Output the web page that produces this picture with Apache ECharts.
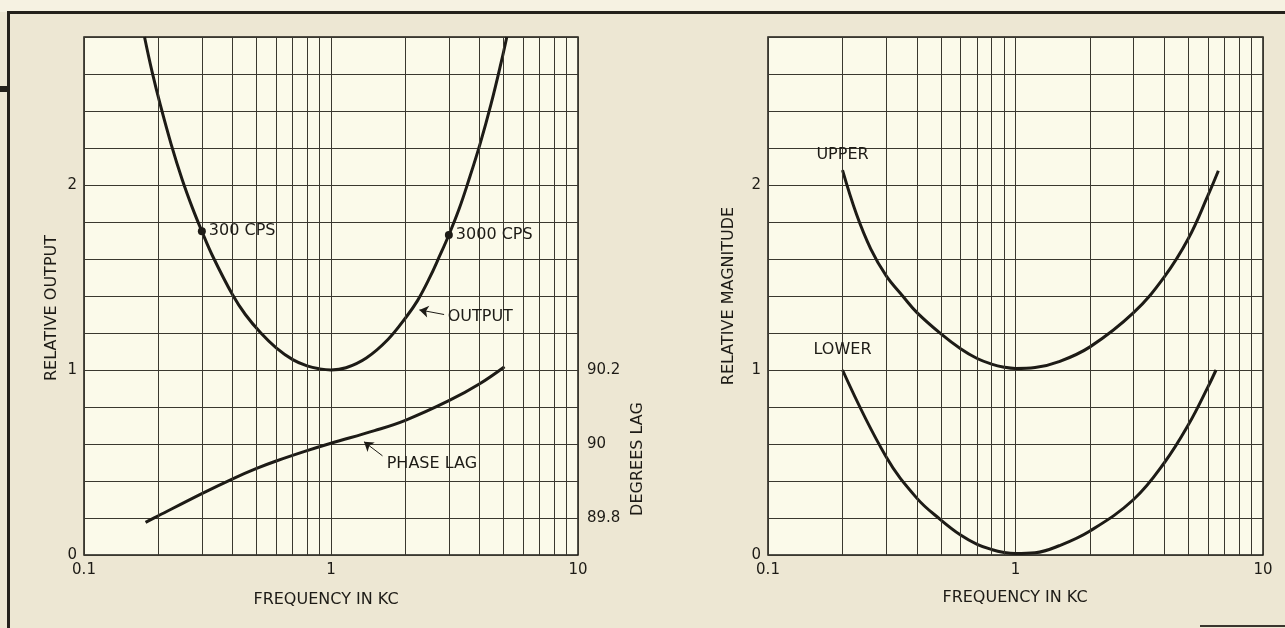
<!DOCTYPE html>
<html>
<head>
<meta charset="utf-8">
<script src="https://cdn.jsdelivr.net/npm/echarts@6/dist/echarts.min.js"></script>
<style>
  html, body { margin: 0; padding: 0; background: #ede7d3; }
  #chart { width: 1285px; height: 628px; }
</style>
</head>
<body>
<div id="chart"></div>
<script>
// ---- Left panel: relative output and phase lag vs frequency (kc) ----
const outputFreq  = [0.1758, 0.1888, 0.204, 0.2254, 0.2497, 0.275, 0.3, 0.332, 0.4, 0.45, 0.52, 0.6, 0.7, 0.8, 0.9, 1.0, 1.15, 1.39, 1.7, 2.02, 2.24, 2.5, 2.75, 3.0, 3.3, 3.6, 4.02, 4.45, 4.88, 5.15];
const outputValue = [2.8,    2.61,   2.43,  2.22,   2.03,   1.875, 1.75, 1.615, 1.405, 1.3, 1.2, 1.12, 1.056, 1.022, 1.006, 1.0, 1.012, 1.065, 1.165, 1.288, 1.375, 1.495, 1.615, 1.73, 1.87, 2.02, 2.225, 2.44, 2.66, 2.8];

const phaseFreq = [0.1775, 0.2, 0.3, 0.4, 0.5, 0.6, 0.8, 1.0, 1.5, 2.0, 3.0, 4.0, 5.04];
const phaseDeg  = [89.788, 89.806, 89.866, 89.906, 89.934, 89.954, 89.982, 90.002, 90.036, 90.064, 90.117, 90.163, 90.209];

// Marked frequencies on the output curve (kc) and their captions
const markFreq  = [0.3, 3.0];
const markLabel = ['300 CPS', '3000 CPS'];

// ---- Right panel: upper and lower relative magnitude vs frequency (kc) ----
const upperFreq  = [0.2, 0.228, 0.26, 0.3, 0.35, 0.4, 0.5, 0.6, 0.7, 0.8, 0.9, 1.0, 1.2, 1.5, 2.0, 3.0, 4.0, 5.0, 6.0, 6.6];
const upperValue = [2.08, 1.84, 1.655, 1.51, 1.40, 1.31, 1.195, 1.115, 1.062, 1.032, 1.015, 1.008, 1.013, 1.045, 1.125, 1.31, 1.505, 1.712, 1.945, 2.077];

const lowerFreq  = [0.2, 0.3, 0.4, 0.5, 0.6, 0.7, 0.8, 0.9, 1.0, 1.2, 1.5, 2.0, 3.0, 4.0, 5.0, 6.0, 6.46];
const lowerValue = [1.0, 0.531, 0.306, 0.189, 0.108, 0.058, 0.03, 0.014, 0.008, 0.012, 0.05, 0.13, 0.3, 0.5, 0.705, 0.91, 1.0];

// Log-paper rulings between decades, and tick captions
const rulingFreq = [0.2, 0.3, 0.4, 0.5, 0.6, 0.7, 0.8, 0.9, 2, 3, 4, 5, 6, 7, 8, 9];
const freqTicks  = ['0.1', '1', '10'];
const relTicks   = ['0', '1', '2'];
const degTicks   = ['89.8', '90', '90.2'];

const INK = '#1d1b16';
const RULE = '#3a382f';
const PAPER = '#fbfaea';
const FONT = 'DejaVu Sans';

const zip = (xs, ys) => xs.map((x, i) => [x, ys[i]]);

function freqLabel(v) {
  const e = Math.round(Math.log10(v)) + 1;   // 0.1 -> 0, 1 -> 1, 10 -> 2
  return freqTicks[e] !== undefined ? freqTicks[e] : '';
}
function relLabel(v) {
  const r = Math.round(v * 10) / 10;
  return Number.isInteger(r) && relTicks[r] !== undefined ? relTicks[r] : '';
}
function degLabel(v) {
  const s = (Math.round(v * 10) / 10).toString();
  return degTicks.indexOf(s) >= 0 ? s : '';
}

const textBase = { fontFamily: FONT, fontSize: 16, color: INK, opacity: 1 };

function freqAxis(gi) {
  return {
    type: 'log', logBase: 10, min: 0.1, max: 10, gridIndex: gi,
    axisLine: { show: false }, axisTick: { show: false },
    splitLine: { show: true, lineStyle: { color: RULE, width: 1 } },
    axisLabel: { ...textBase, fontSize: 15, margin: 8, showMinLabel: true, showMaxLabel: true, formatter: freqLabel }
  };
}
function relAxis(gi) {
  return {
    type: 'value', min: 0, max: 2.8, interval: 0.2, gridIndex: gi,
    axisLine: { show: false }, axisTick: { show: false },
    splitLine: { show: true, lineStyle: { color: RULE, width: 1 } },
    axisLabel: { ...textBase, fontSize: 15, margin: 7, formatter: relLabel }
  };
}
function rulings(xi, yi) {
  return {
    type: 'line', xAxisIndex: xi, yAxisIndex: yi, data: [], z: 1, silent: true,
    markLine: {
      silent: true, symbol: 'none', animation: false,
      label: { show: false },
      lineStyle: { color: RULE, width: 1, type: 'solid' },
      data: rulingFreq.map(f => ({ xAxis: f }))
    }
  };
}
const curveStyle = { color: INK, width: 3 };
const leader = { color: INK, width: 1, type: 'solid' };

const option = {
  animation: false,
  backgroundColor: 'transparent',
  grid: [
    { left: 84, top: 37, width: 494, height: 518, show: true, backgroundColor: PAPER, borderColor: INK, borderWidth: 1.5 },
    { left: 768, top: 37, width: 495, height: 518, show: true, backgroundColor: PAPER, borderColor: INK, borderWidth: 1.5 }
  ],
  xAxis: [freqAxis(0), freqAxis(1)],
  yAxis: [
    relAxis(0),
    {
      type: 'value', min: 89.7, max: 91.1, interval: 0.1, gridIndex: 0, position: 'right',
      axisLine: { show: false }, axisTick: { show: false }, splitLine: { show: false },
      axisLabel: { ...textBase, fontSize: 15, margin: 9, formatter: degLabel }
    },
    relAxis(1)
  ],
  graphic: [
    { type: 'rect', shape: { x: 0, y: 0, width: 1285, height: 12 }, style: { fill: '#f6f2e2' }, z: -1 },
    { type: 'line', shape: { x1: 7, y1: 12.5, x2: 1285, y2: 12.5 }, style: { stroke: '#24211b', lineWidth: 3 } },
    { type: 'line', shape: { x1: 8.5, y1: 12, x2: 8.5, y2: 628 }, style: { stroke: '#24211b', lineWidth: 3 } },
    { type: 'rect', shape: { x: 0, y: 86, width: 8, height: 6 }, style: { fill: '#24211b' } },
    { type: 'line', shape: { x1: 1200, y1: 626, x2: 1285, y2: 626 }, style: { stroke: '#3a362e', lineWidth: 2 } },
    { type: 'text', x: 52, y: 308, rotation: Math.PI / 2,
      style: { text: 'RELATIVE OUTPUT', font: '16px "DejaVu Sans"', fill: INK, align: 'center', verticalAlign: 'middle', textAlign: 'center', textVerticalAlign: 'middle' } },
    { type: 'text', x: 326, y: 600,
      style: { text: 'FREQUENCY IN KC', font: '16px "DejaVu Sans"', fill: INK, align: 'center', verticalAlign: 'middle', textAlign: 'center', textVerticalAlign: 'middle' } },
    { type: 'text', x: 638, y: 459, rotation: Math.PI / 2,
      style: { text: 'DEGREES LAG', font: '16px "DejaVu Sans"', fill: INK, align: 'center', verticalAlign: 'middle', textAlign: 'center', textVerticalAlign: 'middle' } },
    { type: 'text', x: 729, y: 296, rotation: Math.PI / 2,
      style: { text: 'RELATIVE MAGNITUDE', font: '16px "DejaVu Sans"', fill: INK, align: 'center', verticalAlign: 'middle', textAlign: 'center', textVerticalAlign: 'middle' } },
    { type: 'text', x: 1015, y: 598,
      style: { text: 'FREQUENCY IN KC', font: '16px "DejaVu Sans"', fill: INK, align: 'center', verticalAlign: 'middle', textAlign: 'center', textVerticalAlign: 'middle' } }
  ],
  series: [
    rulings(0, 0),
    rulings(1, 2),
    {
      name: 'Output', type: 'line', xAxisIndex: 0, yAxisIndex: 0, z: 3,
      data: zip(outputFreq, outputValue), smooth: 0.4, showSymbol: false, lineStyle: curveStyle
    },
    {
      name: 'Phase lag', type: 'line', xAxisIndex: 0, yAxisIndex: 1, z: 3,
      data: zip(phaseFreq, phaseDeg), smooth: 0.4, showSymbol: false, lineStyle: curveStyle
    },
    {
      // leader arrows and captions for the two left-panel curves
      name: 'Output caption', type: 'line', xAxisIndex: 0, yAxisIndex: 0, data: [], z: 5,
      markLine: {
        silent: true, symbol: ['none', 'arrow'], symbolSize: 9, lineStyle: leader, label: { show: false },
        itemStyle: { color: INK },
        data: [[{ coord: [2.87, 1.30] }, { coord: [2.28, 1.325] }]]
      },
      markPoint: {
        silent: true, symbol: 'rect', symbolSize: 1, itemStyle: { color: 'rgba(0,0,0,0)' },
        label: { ...textBase, position: 'right', distance: 0, formatter: 'OUTPUT' },
        data: [{ coord: [2.953, 1.286] }]
      }
    },
    {
      name: 'Phase caption', type: 'line', xAxisIndex: 0, yAxisIndex: 1, data: [], z: 5,
      markLine: {
        silent: true, symbol: ['none', 'arrow'], symbolSize: 9, lineStyle: leader, label: { show: false },
        itemStyle: { color: INK },
        data: [[{ coord: [1.616, 89.968] }, { coord: [1.36, 90.006] }]]
      },
      markPoint: {
        silent: true, symbol: 'rect', symbolSize: 1, itemStyle: { color: 'rgba(0,0,0,0)' },
        label: { ...textBase, position: 'right', distance: 0, formatter: 'PHASE LAG' },
        data: [{ coord: [1.673, 89.946] }]
      }
    },
    {
      name: 'Marked', type: 'scatter', xAxisIndex: 0, yAxisIndex: 0, z: 6,
      symbol: 'circle', symbolSize: 8, itemStyle: { color: INK, opacity: 1 },
      label: { show: true, ...textBase, position: 'right', distance: 3, formatter: p => markLabel[p.dataIndex] },
      emphasis: { disabled: true },
      data: markFreq.map(f => [f, outputValue[outputFreq.indexOf(f)]])
    },
    {
      name: 'Upper', type: 'line', xAxisIndex: 1, yAxisIndex: 2, z: 3,
      data: zip(upperFreq, upperValue), smooth: 0.4, showSymbol: false, lineStyle: curveStyle,
      markPoint: {
        silent: true, symbol: 'rect', symbolSize: 1, itemStyle: { color: 'rgba(0,0,0,0)' },
        label: { ...textBase, position: 'inside', formatter: 'UPPER' },
        data: [{ coord: [0.2, 2.162] }]
      }
    },
    {
      name: 'Lower', type: 'line', xAxisIndex: 1, yAxisIndex: 2, z: 3,
      data: zip(lowerFreq, lowerValue), smooth: 0.4, showSymbol: false, lineStyle: curveStyle,
      markPoint: {
        silent: true, symbol: 'rect', symbolSize: 1, itemStyle: { color: 'rgba(0,0,0,0)' },
        label: { ...textBase, position: 'inside', formatter: 'LOWER' },
        data: [{ coord: [0.2, 1.108] }]
      }
    }
  ]
};

const chart = echarts.init(document.getElementById('chart'), null, { renderer: 'canvas' });
chart.setOption(option);
</script>
</body>
</html>
